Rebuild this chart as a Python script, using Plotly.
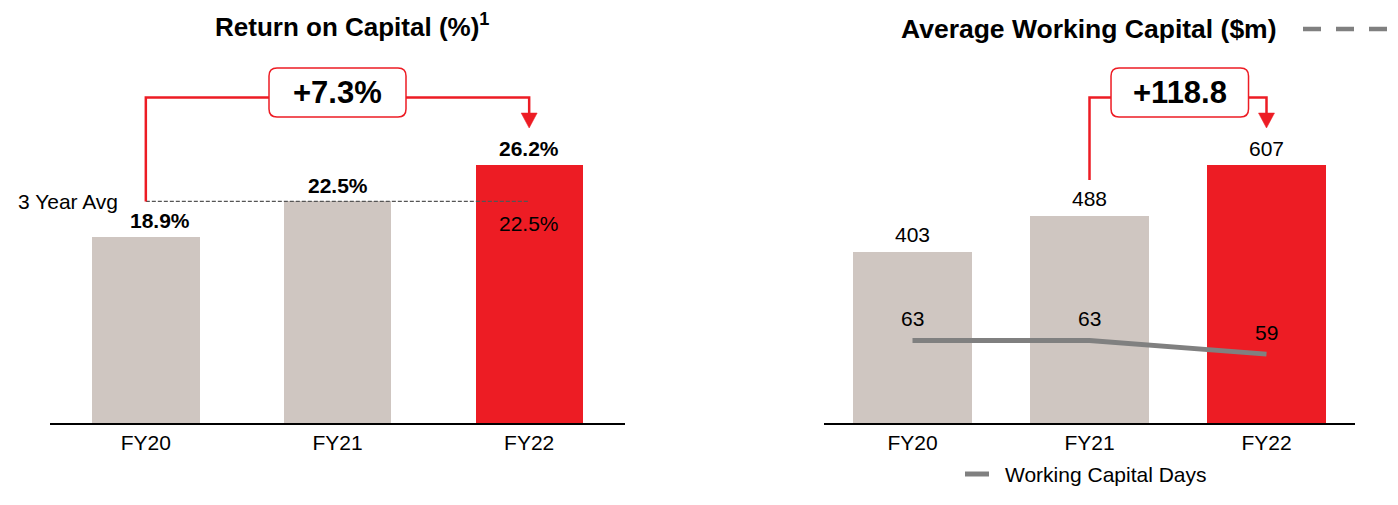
import plotly.graph_objects as go

# ---------------- data ----------------
categories = ["FY20", "FY21", "FY22"]
roc_values = [18.9, 22.5, 26.2]
roc_labels = ["18.9%", "22.5%", "26.2%"]
roc_label_xshift = [14, 0, 0]
roc_avg = 22.5
roc_avg_label = "22.5%"
roc_change = "+7.3%"
awc_values = [403, 488, 607]
awc_labels = ["403", "488", "607"]
awc_change = "+118.8"
wc_days = [63, 63, 59]
wc_days_labels = ["63", "63", "59"]

# ---------------- style ----------------
W, H = 1398, 505
FONT = "Liberation Sans, Arial, Helvetica, sans-serif"
RED = "#ED1C24"
BEIGE = "#CFC6C1"
GREY = "#808080"
bar_colors = [BEIGE, BEIGE, RED]

LEFT_PX = (50, 625)
RIGHT_PX = (824, 1355)
BASE_Y, TOP_Y = 423, 30
K_LEFT = 9.85     # px per % point
K_RIGHT = 0.425   # px per $m
Y3_RANGE = [38.6, 155]


def px(x):
    return x / W


def py(y):
    return 1 - y / H


fig = go.Figure()
fig.add_trace(go.Bar(x=categories, y=roc_values, marker=dict(color=bar_colors, line=dict(width=0)),
                     width=0.56, xaxis="x", yaxis="y", showlegend=False, hoverinfo="skip"))
fig.add_trace(go.Bar(x=categories, y=awc_values, marker=dict(color=bar_colors, line=dict(width=0)),
                     width=0.67, xaxis="x2", yaxis="y2", showlegend=False, hoverinfo="skip"))
fig.add_trace(go.Scatter(x=categories, y=wc_days, mode="lines", name="Working Capital Days",
                         line=dict(color=GREY, width=5), xaxis="x2", yaxis="y3",
                         showlegend=False, hoverinfo="skip"))

ydom = [py(BASE_Y), py(TOP_Y)]
xcommon = dict(showline=True, linecolor="black", linewidth=2, ticks="", showgrid=False,
               zeroline=False, range=[-0.5, 2.5], tickfont=dict(size=21, color="black", family=FONT),
               fixedrange=True, automargin=False)
ycommon = dict(visible=False, showgrid=False, zeroline=False, fixedrange=True)

fig.update_layout(
    width=W, height=H,
    margin=dict(l=0, r=0, t=0, b=0),
    paper_bgcolor="white", plot_bgcolor="white",
    font=dict(family=FONT, color="black", size=21),
    bargap=0,
    xaxis=dict(domain=[px(LEFT_PX[0]), px(LEFT_PX[1])], anchor="y", **xcommon),
    yaxis=dict(domain=ydom, anchor="x", range=[0, (BASE_Y - TOP_Y) / K_LEFT], **ycommon),
    xaxis2=dict(domain=[px(RIGHT_PX[0]), px(RIGHT_PX[1])], anchor="y2", **xcommon),
    yaxis2=dict(domain=ydom, anchor="x2", range=[0, (BASE_Y - TOP_Y) / K_RIGHT], **ycommon),
    yaxis3=dict(overlaying="y2", anchor="x2", range=Y3_RANGE, **ycommon),
)

ann = []
# titles
ann.append(dict(xref="paper", yref="paper", x=px(213), y=py(25), xanchor="left", yanchor="middle",
                text="<b>Return on Capital (%)<sup>1</sup></b>", showarrow=False,
                font=dict(size=26, family=FONT, color="black")))
ann.append(dict(xref="paper", yref="paper", x=px(899), y=py(29), xanchor="left", yanchor="middle",
                text="<b>Average Working Capital ($m)</b>", showarrow=False,
                font=dict(size=26.5, family=FONT, color="black")))

# bar value labels
for c, v, t, dx in zip(categories, roc_values, roc_labels, roc_label_xshift):
    ann.append(dict(xref="x", yref="y", x=c, y=v, yshift=16, xshift=dx, yanchor="middle", showarrow=False,
                    text=f"<b>{t}</b>", font=dict(size=21, family=FONT, color="black")))
for c, v, t in zip(categories, awc_values, awc_labels):
    ann.append(dict(xref="x2", yref="y2", x=c, y=v, yshift=17, yanchor="middle", showarrow=False,
                    text=t, font=dict(size=21, family=FONT, color="black")))
for c, v, t in zip(categories, wc_days, wc_days_labels):
    ann.append(dict(xref="x2", yref="y3", x=c, y=v, yshift=22, yanchor="middle", showarrow=False,
                    text=t, font=dict(size=21, family=FONT, color="black")))

# 3 year avg
ann.append(dict(xref="paper", yref="y", x=px(120), y=roc_avg, xanchor="right", yanchor="middle",
                showarrow=False, text="3 Year Avg", font=dict(size=21, family=FONT, color="black")))
ann.append(dict(xref="x", yref="y", x=categories[2], y=roc_avg, yshift=-22, yanchor="middle",
                showarrow=False, text=roc_avg_label, font=dict(size=21, family=FONT, color="black")))

# callout texts
ann.append(dict(xref="x", yref="paper", x=1, y=py(92.5), yanchor="middle", showarrow=False,
                text=f"<b>{roc_change}</b>", font=dict(size=31, family=FONT, color="black")))
ann.append(dict(xref="x2", yref="paper", x=1.51, y=py(92.5), yanchor="middle", showarrow=False,
                text=f"<b>{awc_change}</b>", font=dict(size=31, family=FONT, color="black")))

# legend text
ann.append(dict(xref="paper", yref="paper", x=px(1003), y=py(474), xanchor="left", yanchor="middle",
                showarrow=False, text="Working Capital Days", font=dict(size=21, family=FONT, color="black")))

shapes = []
# avg dashed line
shapes.append(dict(type="line", xref="x", yref="y", x0=0, x1=2, y0=roc_avg, y1=roc_avg,
                   line=dict(color="#555555", width=1.3, dash="4px,2px"), layer="above"))


def rounded_box(xc, half_w, unit_px, top, bot, r=8):
    rx = r / unit_px
    ry = r / H
    x0, x1 = xc - half_w, xc + half_w
    t, b = py(top), py(bot)
    return (f"M {x0+rx},{t} L {x1-rx},{t} Q {x1},{t} {x1},{t-ry} L {x1},{b+ry} "
            f"Q {x1},{b} {x1-rx},{b} L {x0+rx},{b} Q {x0},{b} {x0},{b+ry} "
            f"L {x0},{t-ry} Q {x0},{t} {x0+rx},{t} Z")


LINE_Y = 97.5
# left bracket
uL = (LEFT_PX[1] - LEFT_PX[0]) / 3
hwL = 68.5 / uL
avg_px = BASE_Y - roc_avg * K_LEFT
shapes.append(dict(type="path", xref="x", yref="paper",
                   path=f"M 0,{py(avg_px)} L 0,{py(LINE_Y)} L {1-hwL},{py(LINE_Y)}",
                   line=dict(color=RED, width=2.5)))
shapes.append(dict(type="path", xref="x", yref="paper",
                   path=f"M {1+hwL},{py(LINE_Y)} L 2,{py(LINE_Y)} L 2,{py(114)}",
                   line=dict(color=RED, width=2.5)))
aw = 8 / uL
shapes.append(dict(type="path", xref="x", yref="paper",
                   path=f"M {2-aw},{py(113)} L {2+aw},{py(113)} L 2,{py(128)} Z",
                   fillcolor=RED, line=dict(color=RED, width=0.5)))
shapes.append(dict(type="path", xref="x", yref="paper", path=rounded_box(1, hwL, uL, 68, 117),
                   fillcolor="white", line=dict(color=RED, width=1.5)))

# right bracket
uR = (RIGHT_PX[1] - RIGHT_PX[0]) / 3
hwR = 68.75 / uR
shapes.append(dict(type="path", xref="x2", yref="paper",
                   path=f"M 1,{py(180)} L 1,{py(LINE_Y)} L {1.51-hwR},{py(LINE_Y)}",
                   line=dict(color=RED, width=2.5)))
shapes.append(dict(type="path", xref="x2", yref="paper",
                   path=f"M {1.51+hwR},{py(LINE_Y)} L 2,{py(LINE_Y)} L 2,{py(114)}",
                   line=dict(color=RED, width=2.5)))
awR = 8 / uR
shapes.append(dict(type="path", xref="x2", yref="paper",
                   path=f"M {2-awR},{py(113)} L {2+awR},{py(113)} L 2,{py(128)} Z",
                   fillcolor=RED, line=dict(color=RED, width=0.5)))
shapes.append(dict(type="path", xref="x2", yref="paper", path=rounded_box(1.51, hwR, uR, 68, 117),
                   fillcolor="white", line=dict(color=RED, width=1.5)))

# truncated dashed legend line at top right
shapes.append(dict(type="line", xref="paper", yref="paper", x0=px(1303), x1=px(1420), y0=py(29), y1=py(29),
                   line=dict(color=GREY, width=4.5, dash="18px,15px")))
# bottom legend swatch
shapes.append(dict(type="line", xref="paper", yref="paper", x0=px(965), x1=px(989), y0=py(474), y1=py(474),
                   line=dict(color=GREY, width=5)))

fig.update_layout(annotations=ann, shapes=shapes)
fig.write_html("out.html")
